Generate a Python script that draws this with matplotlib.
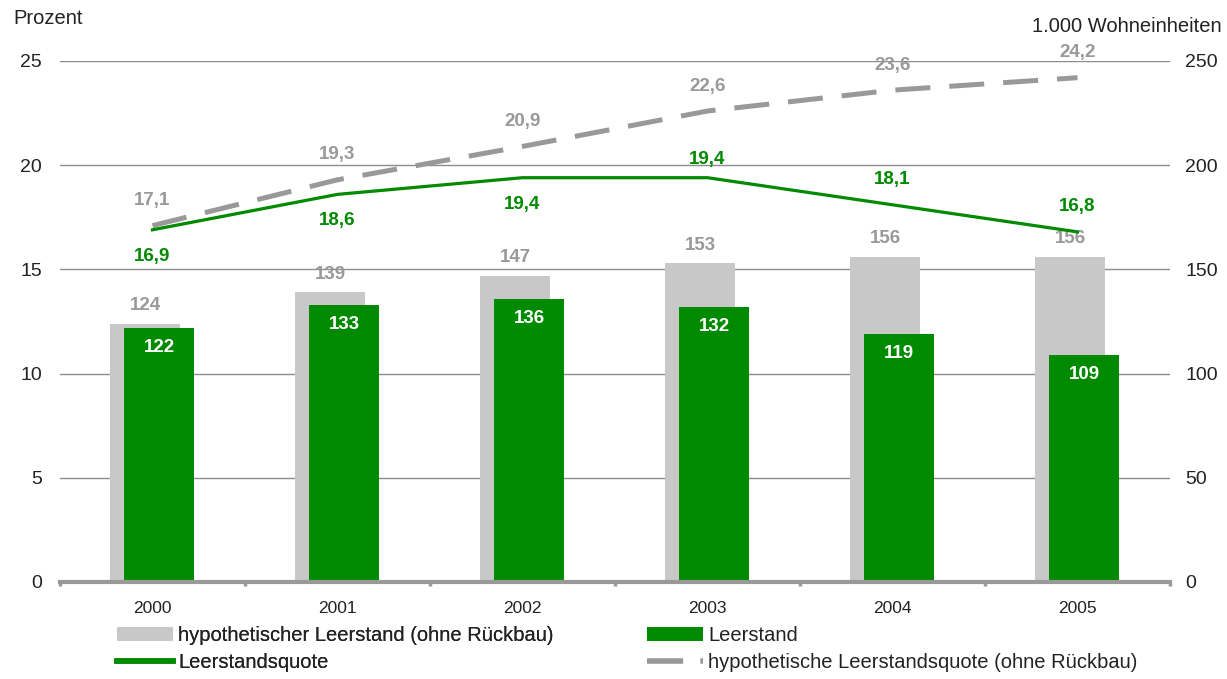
import matplotlib
matplotlib.use("Agg")
import matplotlib.pyplot as plt
from matplotlib.patches import Patch
from matplotlib.lines import Line2D
import numpy as np

years = ["2000", "2001", "2002", "2003", "2004", "2005"]
hypo_leerstand = [124, 139, 147, 153, 156, 156]          # 1.000 WE
leerstand = [122, 133, 136, 132, 119, 109]               # 1.000 WE
quote = [16.9, 18.6, 19.4, 19.4, 18.1, 16.8]             # Prozent
hypo_quote = [17.1, 19.3, 20.9, 22.6, 23.6, 24.2]        # Prozent
quote_label_pos = ["below", "below", "below", "above", "above", "above"]

GREEN = "#008a00"
LGRAY = "#c8c8c8"
DGRAY = "#999999"
TXT = "#222222"

plt.rcParams["font.family"] = ["Liberation Sans", "DejaVu Sans"]

fig = plt.figure(figsize=(12.27, 6.79), dpi=100)
W, H = 1227, 679
ax2 = fig.add_axes([60 / W, 1 - 582 / H, 1110 / W, 521 / H])
ax = ax2.twinx()
ax.set_zorder(ax2.get_zorder() + 1)
ax.patch.set_visible(False)

x = np.arange(len(years))
bw = 0.378
LBL = 13.5

# Bars (right axis, 1.000 WE)
ax2.bar(x - 0.04, hypo_leerstand, width=bw, color=LGRAY, zorder=2)
ax2.bar(x + 0.035, leerstand, width=bw, color=GREEN, zorder=3)
ax2.set_ylim(0, 250)
ax2.set_xlim(-0.5, len(years) - 0.5)
ax2.set_yticks([0, 50, 100, 150, 200, 250])
ax2.yaxis.grid(True, color="#8c8c8c", linewidth=1.0)
ax2.set_axisbelow(True)

for xi, v in zip(x - 0.04, hypo_leerstand):
    ax2.annotate(str(v), (xi, v), xytext=(0, 13), textcoords="offset points",
                 ha="center", va="center", color=DGRAY, fontsize=LBL,
                 fontweight="bold", zorder=5)
for xi, v in zip(x + 0.035, leerstand):
    ax2.annotate(str(v), (xi, v), xytext=(0, -14), textcoords="offset points",
                 ha="center", va="center", color="white", fontsize=LBL,
                 fontweight="bold", zorder=5)

# Lines (left axis, Prozent)
ax.plot(x, hypo_quote, color=DGRAY, linewidth=3.6, dashes=(7, 3.8),
        solid_capstyle="butt", dash_capstyle="butt", zorder=4)
ax.plot(x, quote, color=GREEN, linewidth=2.3, zorder=5)
ax.set_ylim(0, 25)
ax.set_yticks([0, 5, 10, 15, 20, 25])

for xi, v in zip(x, hypo_quote):
    ax.annotate(f"{v:.1f}".replace(".", ","), (xi, v), xytext=(0, 18),
                textcoords="offset points", ha="center", va="center",
                color=DGRAY, fontsize=LBL, fontweight="bold")
for xi, v, pos in zip(x, quote, quote_label_pos):
    dy = -19 if pos == "below" else 18
    if xi == 3:
        dy = 13
    ax.annotate(f"{v:.1f}".replace(".", ","), (xi, v), xytext=(0, dy),
                textcoords="offset points", ha="center", va="center",
                color=GREEN, fontsize=LBL, fontweight="bold")

# Axes styling
for a in (ax, ax2):
    for s in a.spines.values():
        s.set_visible(False)
ax.yaxis.tick_left()
ax2.yaxis.tick_right()
ax.tick_params(axis="y", length=0, pad=13, labelsize=14, labelcolor=TXT)
ax2.tick_params(axis="y", length=0, pad=11, labelsize=14, labelcolor=TXT)
ax2.set_xticks(x)
ax2.set_xticklabels(years)
ax2.tick_params(axis="x", length=0, pad=14, labelsize=12.5, labelcolor=TXT)
ax2.set_xticks(np.arange(-0.5, len(years), 1.0), minor=True)
ax2.tick_params(axis="x", which="minor", length=3, width=2.5, color=DGRAY,
                direction="out")
ax2.axhline(0, color=DGRAY, linewidth=3, zorder=6, clip_on=False)

fig.text(13 / W, 1 - 18 / H, "Prozent", fontsize=14.5, color=TXT,
         ha="left", va="center")
fig.text(1222 / W, 1 - 27 / H, "1.000 Wohneinheiten", fontsize=14.5,
         color=TXT, ha="right", va="center")

leg_kw = dict(loc="upper left", frameon=False, fontsize=14.5,
              handlelength=2.8, handleheight=0.65, handletextpad=0.25,
              borderpad=0, borderaxespad=0, labelspacing=0.4,
              labelcolor=TXT)
h_col1 = [Patch(facecolor=LGRAY, edgecolor="none"),
          Line2D([0], [0], color=GREEN, linewidth=4)]
l_col1 = ["hypothetischer Leerstand (ohne Rückbau)", "Leerstandsquote"]
h_col2 = [Patch(facecolor=GREEN, edgecolor="none"),
          Line2D([0], [0], color=DGRAY, linewidth=4, dashes=(6.5, 3.1),
                 dash_capstyle="butt")]
l_col2 = ["Leerstand", "hypothetische Leerstandsquote (ohne Rückbau)"]
leg1 = fig.legend(h_col1, l_col1, bbox_to_anchor=(117 / W, 1 - 626 / H),
                  **leg_kw)
fig.add_artist(leg1)
fig.legend(h_col2, l_col2, bbox_to_anchor=(647 / W, 1 - 626 / H), **leg_kw)

fig.savefig("out.png", dpi=100)
